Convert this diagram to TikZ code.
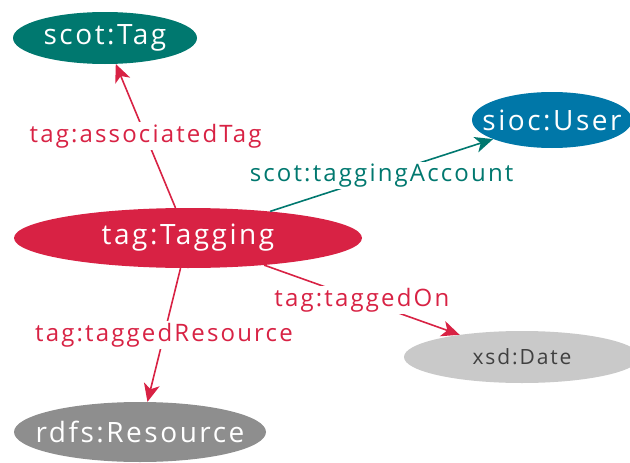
\documentclass[tikz,border=0pt]{standalone}
\usepackage{fontspec}
\setmainfont{Open Sans}[LetterSpace=9]
\usepackage{tikz}
\usetikzlibrary{arrows.meta,shapes.geometric}
\definecolor{scotteal}{HTML}{00786F}
\definecolor{siocblue}{HTML}{0077A8}
\definecolor{tagred}{HTML}{D82244}
\definecolor{rdfsgray}{HTML}{8E8E8E}
\definecolor{xsdgray}{HTML}{C9C9C9}
\definecolor{xsdtext}{HTML}{404040}

\begin{document}
\begin{tikzpicture}[x=1pt,y=-1pt]
  \tikzstyle{cls}=[ellipse,inner xsep=-40pt,inner ysep=0pt,text=white,font=\fontsize{28}{32}\selectfont]
  \tikzstyle{prop}=[fill=white,inner sep=2pt,font=\fontsize{24}{28}\selectfont]
  \tikzstyle{link}=[-{Stealth[length=18pt,width=16pt,inset=5pt]},line width=1.6pt]
  \useasboundingbox (0,0) rectangle (630,463);
  \node[cls,fill=scotteal,minimum width=184pt,minimum height=52pt] (tag) at (105,38) {scot:Tag};
  \node[cls,fill=siocblue,minimum width=160pt,minimum height=56pt] (user) at (552,120) {sioc:User};
  \node[cls,fill=tagred,minimum width=348pt,minimum height=60pt] (tagging) at (188,238) {tag:Tagging};
  \node[cls,fill=xsdgray,text=xsdtext,minimum width=236pt,minimum height=52pt,
        font=\fontsize{21}{25}\selectfont] (date) at (522,357) {xsd:Date};
  \node[cls,fill=rdfsgray,minimum width=252pt,minimum height=60pt] (resource) at (140,432) {rdfs:Resource};
  % properties of tag:Tagging
  \draw[link,tagred] (tagging) -- node[prop,text=tagred] {tag:associatedTag} (tag);
  \draw[link,scotteal] (tagging) -- node[prop,text=scotteal] {scot:taggingAccount} (user);
  \draw[link,tagred] (tagging) -- node[prop,text=tagred] {tag:taggedOn} (date);
  \draw[link,tagred] (tagging) -- node[prop,text=tagred] {tag:taggedResource} (resource);
\end{tikzpicture}
\end{document}
